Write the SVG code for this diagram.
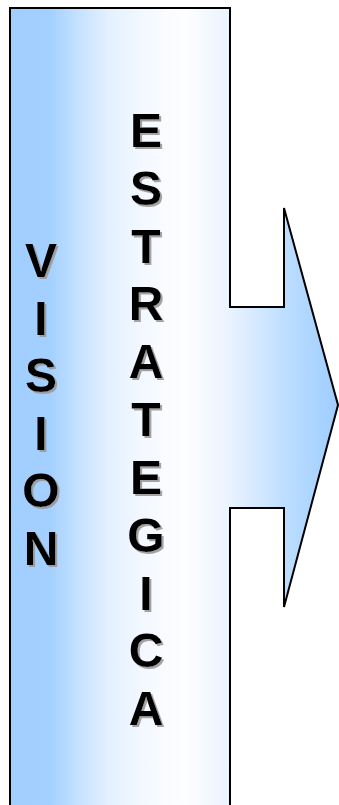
<svg xmlns="http://www.w3.org/2000/svg" width="339" height="805" viewBox="0 0 339 805">
  <defs>
    <linearGradient id="fillGrad" gradientUnits="userSpaceOnUse" x1="10" y1="0" x2="338" y2="0">
      <stop offset="0" stop-color="#a0ceff"/>
      <stop offset="0.12" stop-color="#a3d0ff"/>
      <stop offset="0.21" stop-color="#c6e2ff"/>
      <stop offset="0.30" stop-color="#e3f0ff"/>
      <stop offset="0.40" stop-color="#f3f8ff"/>
      <stop offset="0.53" stop-color="#fefeff"/>
      <stop offset="0.67" stop-color="#eaf3ff"/>
      <stop offset="0.84" stop-color="#bddeff"/>
      <stop offset="1" stop-color="#9ecdff"/>
    </linearGradient>
    <filter id="shadow" x="-20%" y="-20%" width="150%" height="150%">
      <feDropShadow dx="2" dy="2" stdDeviation="0.4" flood-color="#9a9a9a" flood-opacity="0.9"/>
    </filter>
  </defs>
  <style>
    .lbl { font-family: "Liberation Sans", Arial, sans-serif; font-weight: bold; font-size: 48px; fill: #000; text-anchor: middle; }
  </style>
  <g id="shape">
    <polygon points="10,8 230,8 230,307 284,307 284,208 338,405 284,607 284,508 230,508 230,815 10,815" fill="url(#fillGrad)" stroke="#000" stroke-width="2" stroke-linejoin="miter"/>
  </g>
  <g id="vision" filter="url(#shadow)">
    <text class="lbl" x="41" y="277">V</text>
    <text class="lbl" x="41" y="335">I</text>
    <text class="lbl" x="41" y="392">S</text>
    <text class="lbl" x="41" y="450">I</text>
    <text class="lbl" x="41" y="507">O</text>
    <text class="lbl" x="41" y="565">N</text>
  </g>
  <g id="estrategica" filter="url(#shadow)">
    <text class="lbl" x="146" y="147">E</text>
    <text class="lbl" x="146" y="205">S</text>
    <text class="lbl" x="146" y="263">T</text>
    <text class="lbl" x="146" y="320">R</text>
    <text class="lbl" x="146" y="378">A</text>
    <text class="lbl" x="146" y="436">T</text>
    <text class="lbl" x="146" y="494">E</text>
    <text class="lbl" x="146" y="552">G</text>
    <text class="lbl" x="146" y="610">I</text>
    <text class="lbl" x="146" y="667">C</text>
    <text class="lbl" x="146" y="725">A</text>
  </g>
</svg>
